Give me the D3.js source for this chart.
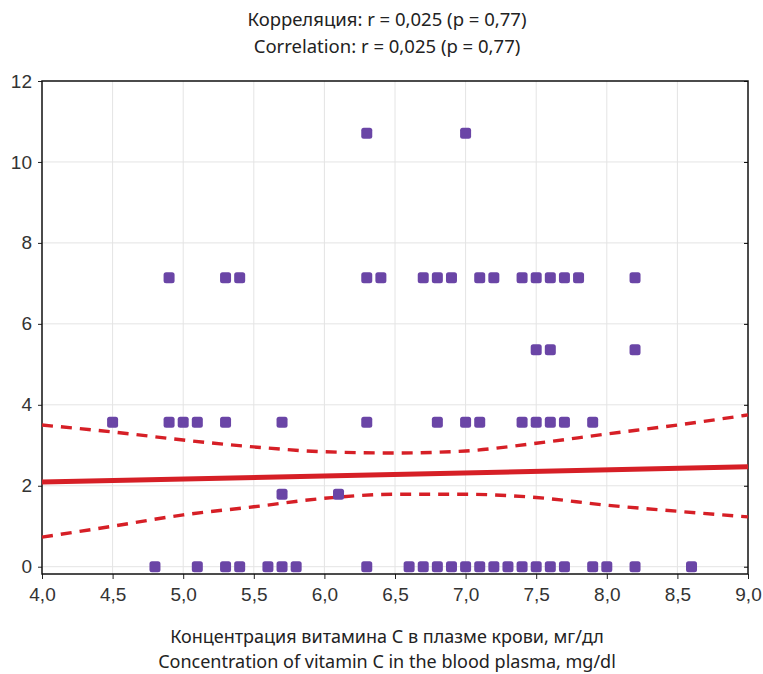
<!DOCTYPE html>
<html>
<head>
<meta charset="utf-8">
<script src="https://cdn.jsdelivr.net/npm/d3@7"></script>
<style>
  body { margin: 0; background: #fff; }
  svg { display: block; }
</style>
</head>
<body>
<svg id="chart" width="763" height="674"></svg>
<script>
// observed points, grouped by y level
const levels = [0, 1.79, 3.57, 5.36, 7.14, 10.71];
const xAtLevel0 = [4.8, 5.1, 5.3, 5.4, 5.6, 5.7, 5.8, 6.3, 6.6, 6.7, 6.8, 6.9, 7.0, 7.1, 7.2, 7.3, 7.4, 7.5, 7.6, 7.7, 7.9, 8.0, 8.2, 8.6];
const xAtLevel1 = [5.7, 6.1];
const xAtLevel2 = [4.5, 4.9, 5.0, 5.1, 5.3, 5.7, 6.3, 6.8, 7.0, 7.1, 7.4, 7.5, 7.6, 7.7, 7.9];
const xAtLevel3 = [7.5, 7.6, 8.2];
const xAtLevel4 = [4.9, 5.3, 5.4, 6.3, 6.4, 6.7, 6.8, 6.9, 7.1, 7.2, 7.4, 7.5, 7.6, 7.7, 7.8, 8.2];
const xAtLevel5 = [6.3, 7.0];

// regression line and 95% band
const fitX = [4.0, 9.0];
const fitY = [2.09, 2.47];
const bandX = [4.0, 4.5, 5.0, 5.5, 6.0, 6.5, 7.0, 7.5, 8.0, 8.5, 9.0];
const bandUpper = [3.5, 3.33, 3.13, 2.96, 2.84, 2.81, 2.86, 3.05, 3.28, 3.5, 3.75];
const bandLower = [0.73, 1.0, 1.28, 1.48, 1.69, 1.79, 1.79, 1.71, 1.52, 1.37, 1.23];

const xTicks = [4.0, 4.5, 5.0, 5.5, 6.0, 6.5, 7.0, 7.5, 8.0, 8.5, 9.0];
const yTicks = [0, 2, 4, 6, 8, 10, 12];

const titleLines = ["Корреляция: r = 0,025 (p = 0,77)", "Correlation: r = 0,025 (p = 0,77)"];
const xLabelLines = ["Концентрация витамина С в плазме крови, мг/дл", "Concentration of vitamin C in the blood plasma, mg/dl"];

const pointGroups = [xAtLevel0, xAtLevel1, xAtLevel2, xAtLevel3, xAtLevel4, xAtLevel5];
const points = [];
pointGroups.forEach((xs, i) => xs.forEach(x => points.push({ x: x, y: levels[i] })));

var svg = d3.select("#chart");
var plotLeft = 42, plotRight = 748, plotTop = 81, plotBottom = 574;

var x = d3.scaleLinear().domain([4, 9]).range([plotLeft, plotRight]);
var y = d3.scaleLinear().domain([-0.18, 12]).range([plotBottom, plotTop]);

var fmt = d => d3.format(".1f")(d).replace(".", ",");

// grid
svg.append("g").selectAll("line")
    .data(xTicks.slice(1, -1))
    .enter().append("line")
    .attr("x1", d => x(d)).attr("x2", d => x(d))
    .attr("y1", plotTop).attr("y2", plotBottom)
    .attr("stroke", "#e4e4e4").attr("stroke-width", 1);

svg.append("g").selectAll("line")
    .data(yTicks.slice(0, -1))
    .enter().append("line")
    .attr("x1", plotLeft).attr("x2", plotRight)
    .attr("y1", d => y(d)).attr("y2", d => y(d))
    .attr("stroke", "#e4e4e4").attr("stroke-width", 1);

// axes
var xAxis = svg.append("g")
    .attr("transform", `translate(0,${plotBottom})`)
    .call(d3.axisBottom(x).tickValues(xTicks).tickFormat(fmt).tickSize(5).tickPadding(9));
var yAxis = svg.append("g")
    .attr("transform", `translate(${plotLeft},0)`)
    .call(d3.axisLeft(y).tickValues(yTicks).tickFormat(d3.format("d")).tickSize(4).tickPadding(6));
svg.append("g")
    .attr("transform", `translate(${plotRight},0)`)
    .call(d3.axisLeft(y).tickValues(yTicks).tickFormat("").tickSize(4))
    .select(".domain").remove();

[xAxis, yAxis].forEach(g => {
    g.select(".domain").remove();
    g.selectAll("text")
        .style("font-family", "'Liberation Sans', Arial, sans-serif")
        .style("font-size", "19px")
        .attr("fill", "#333");
    g.selectAll("line").attr("stroke", "#222");
});

// frame
svg.append("rect")
    .attr("x", plotLeft).attr("y", plotTop)
    .attr("width", plotRight - plotLeft).attr("height", plotBottom - plotTop)
    .attr("fill", "none").attr("stroke", "#111").attr("stroke-width", 1.5);

// bands
var bandLine = d3.line().curve(d3.curveMonotoneX);
[bandUpper, bandLower].forEach(band => {
    svg.append("path")
        .attr("d", bandLine(bandX.map((bx, i) => [x(bx), y(band[i])])))
        .attr("fill", "none")
        .attr("stroke", "#d61f26")
        .attr("stroke-width", 3.4)
        .attr("stroke-dasharray", "11,8");
});

// fit line
svg.append("line")
    .attr("x1", x(fitX[0])).attr("y1", y(fitY[0]))
    .attr("x2", x(fitX[1])).attr("y2", y(fitY[1]))
    .attr("stroke", "#d61f26").attr("stroke-width", 5);

// points
var s = 11;
svg.append("g").selectAll("rect")
    .data(points)
    .enter().append("rect")
    .attr("x", d => x(d.x) - s / 2)
    .attr("y", d => y(d.y) - s / 2)
    .attr("width", s).attr("height", s)
    .attr("rx", 2.5)
    .attr("fill", "#6a45a6");

// title
svg.append("g").selectAll("text")
    .data(titleLines)
    .enter().append("text")
    .attr("x", 387)
    .attr("y", (d, i) => 26 + i * 27)
    .attr("text-anchor", "middle")
    .style("font-family", "'Noto Sans', sans-serif")
    .style("font-size", "18.5px")
    .attr("fill", "#222")
    .text(d => d);

// x label
svg.append("g").selectAll("text")
    .data(xLabelLines)
    .enter().append("text")
    .attr("x", 387)
    .attr("y", (d, i) => 643 + i * 25)
    .attr("text-anchor", "middle")
    .style("font-family", "'Noto Sans', sans-serif")
    .style("font-size", "18px")
    .attr("fill", "#222")
    .text(d => d);
</script>
</body>
</html>
